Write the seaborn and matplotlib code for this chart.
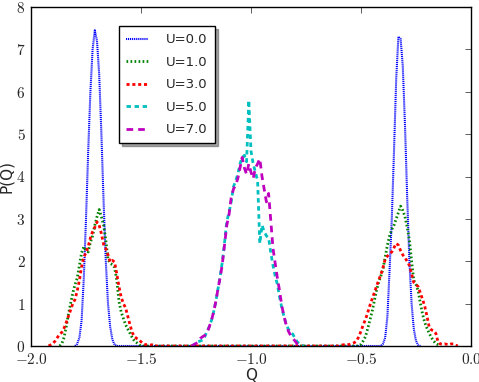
import numpy as np
import pandas as pd
import matplotlib
matplotlib.use("Agg")
import matplotlib.pyplot as plt
import seaborn as sns

# ----------------------------------------------------------------------
# data: histogram P(Q), bin width 0.01, each list starts at the given Q
# ----------------------------------------------------------------------
labels = ["U=0.0", "U=1.0", "U=3.0", "U=5.0", "U=7.0"]

u0_left_start = -1.80
u0_left = [0, 0.05, 0.2, 0.6, 1.6, 3.0, 4.6, 6.0, 7.0, 7.45, 7.2, 6.4, 5.0, 3.4,
           2.0, 1.0, 0.45, 0.15, 0.03, 0]
u0_right_start = -0.41
u0_right = [0, 0.05, 0.2, 0.7, 1.8, 3.0, 4.6, 6.3, 7.3, 7.25, 6.6, 5.2, 3.5, 2.0,
            1.0, 0.4, 0.12, 0.02, 0]

u1_left_start = -1.87
u1_left = [0, 0.05, 0.2, 0.45, 0.75, 1.0, 1.25, 1.45, 1.6, 1.9, 2.2, 2.34, 2.25,
           2.22, 2.45, 2.6, 2.85, 3.05, 3.22, 3.05, 2.85, 2.5, 2.05, 1.95, 1.92,
           1.85, 1.55, 1.05, 0.8, 0.65, 0.5, 0.4, 0.3, 0.2, 0.12, 0.08, 0.03, 0]
u1_right_start = -0.51
u1_right = [0, 0.04, 0.12, 0.22, 0.4, 0.6, 0.8, 1.05, 1.3, 1.5, 1.65, 1.82, 2.1,
            2.38, 2.6, 2.75, 2.85, 3.0, 3.15, 3.3, 3.2, 3.05, 2.8, 2.5, 2.0, 1.55,
            1.45, 1.3, 1.0, 0.75, 0.55, 0.42, 0.3, 0.2, 0.12, 0.06, 0.03, 0]

u3_left_start = -1.92
u3_left = [0, 0.03, 0.06, 0.12, 0.2, 0.28, 0.32, 0.42, 0.55, 0.7, 0.85, 1.0, 1.1,
           1.3, 1.55, 1.87, 2.1, 2.2, 2.35, 2.55, 2.7, 2.8, 2.93, 2.85, 2.65, 2.4,
           2.3, 2.15, 1.98, 2.02, 1.98, 1.7, 1.4, 1.15, 1.0, 0.9, 0.7, 0.5, 0.32,
           0.22, 0.18, 0.15, 0.1, 0.05, 0.03, 0.04, 0.02, 0.03, 0]
u3_right_start = -0.60
u3_right = [0, 0.02, 0.03, 0.02, 0.03, 0.04, 0.06, 0.08, 0.12, 0.22, 0.35, 0.5,
            0.62, 0.78, 0.95, 1.1, 1.25, 1.4, 1.55, 1.68, 1.85, 2.05, 2.12, 2.18,
            2.22, 2.32, 2.42, 2.38, 2.25, 2.15, 2.08, 2.0, 1.9, 1.7, 1.5, 1.45,
            1.4, 1.25, 1.1, 0.93, 0.7, 0.45, 0.38, 0.36, 0.3, 0.1, 0.05, 0.04,
            0.05, 0.04, 0.03, 0.05, 0.05, 0.02, 0]

u5_start = -1.27
u5 = [0, 0.03, 0.08, 0.1, 0.12, 0.14, 0.22, 0.35, 0.45, 0.6, 0.8, 1.05, 1.35,
      1.65, 2.0, 2.45, 2.95, 3.15, 3.4, 3.75, 3.9, 4.05, 4.3, 4.45, 4.5, 4.35,
      5.8, 4.6, 4.3, 4.1, 3.9, 2.42, 2.85, 2.7, 2.6, 2.55, 2.2, 1.9, 1.65, 1.45,
      1.15, 0.9, 0.7, 0.5, 0.4, 0.32, 0.28, 0.18, 0.1, 0.05, 0.02, 0]

u7_start = -1.27
u7 = [0, 0.03, 0.06, 0.1, 0.18, 0.22, 0.25, 0.3, 0.45, 0.6, 0.8, 1.05, 1.35,
      1.62, 1.95, 2.4, 2.85, 3.1, 3.5, 3.7, 3.8, 3.95, 4.2, 4.45, 4.2, 4.05, 4.3,
      4.1, 3.95, 4.2, 4.3, 4.42, 4.0, 3.7, 3.4, 3.6, 2.95, 2.3, 1.95, 1.6, 1.3,
      0.95, 0.7, 0.5, 0.35, 0.25, 0.18, 0.12, 0.05, 0.02, 0]

x_ticks = [-2.0, -1.5, -1.0, -0.5, 0.0]
y_ticks = [0, 1, 2, 3, 4, 5, 6, 7, 8]


def segment(start, vals):
    q = np.round(start + 0.01 * np.arange(len(vals)), 2)
    return q, np.array(vals, dtype=float)


def series(*parts):
    qs, ps = zip(*[segment(s, v) for s, v in parts])
    return pd.DataFrame({"Q": np.concatenate(qs), "P": np.concatenate(ps)})


data = [
    series((u0_left_start, u0_left), (u0_right_start, u0_right)),
    series((u1_left_start, u1_left), (u1_right_start, u1_right)),
    series((u3_left_start, u3_left), (u3_right_start, u3_right)),
    series((u5_start, u5)),
    series((u7_start, u7)),
]

colors = ["#0000ff", "#008000", "#ff0000", "#00bfbf", "#bf00bf"]
widths = [1.5, 2.0, 2.0, 2.0, 2.0]
dashes = [(0.8, 0.6), (1.2, 1.7), (2.2, 2.0), (3.2, 2.6), (4.8, 3.6)]

# ----------------------------------------------------------------------
# plot
# ----------------------------------------------------------------------
sns.set_style("white")
plt.rcParams["font.family"] = ["DejaVu Sans"]
plt.rcParams["mathtext.fontset"] = "cm"
plt.rcParams["lines.scale_dashes"] = False

fig = plt.figure(figsize=(4.79, 3.82), dpi=100)
ax = fig.add_axes([31 / 479, 36 / 382, 440 / 479, 339 / 382])

for df, lab, c, lw, d in zip(data, labels, colors, widths, dashes):
    sns.lineplot(data=df, x="Q", y="P", ax=ax, color=c, lw=lw,
                 label=lab, sort=False, estimator=None)
    ax.lines[-1].set_dashes(d)

ax.set_xlim(-2.0, 0.0)
ax.set_ylim(0, 8)
ax.set_xticks(x_ticks)
ax.set_xticklabels(["$%.1f$" % t for t in x_ticks])
ax.set_yticks(y_ticks)
ax.set_yticklabels(["$%d$" % t for t in y_ticks])
ax.tick_params(direction="in", length=4, width=0.6, top=True, right=True,
               labelsize=11, pad=4, color="#444444")
for s in ax.spines.values():
    s.set_color("black")
    s.set_linewidth(1.0)

ax.set_xlabel("Q", fontsize=11)
ax.set_ylabel("P(Q)", fontsize=11)
ax.xaxis.set_label_coords(0.5, -0.066)
ax.yaxis.set_label_coords(-0.039, 0.5)

leg = ax.legend(loc="upper left", bbox_to_anchor=(0.2, 0.944), borderaxespad=0,
                fontsize=9.5, frameon=True, fancybox=False, shadow=True,
                handlelength=1.67, labelspacing=0.72, handletextpad=1.36,
                borderpad=0.55)
leg.get_frame().set_edgecolor("black")
leg.get_frame().set_linewidth(1.0)
for h, d in zip(leg.get_lines(), dashes):
    h.set_dashes(d)

fig.savefig("out.png", dpi=100, facecolor="white")
